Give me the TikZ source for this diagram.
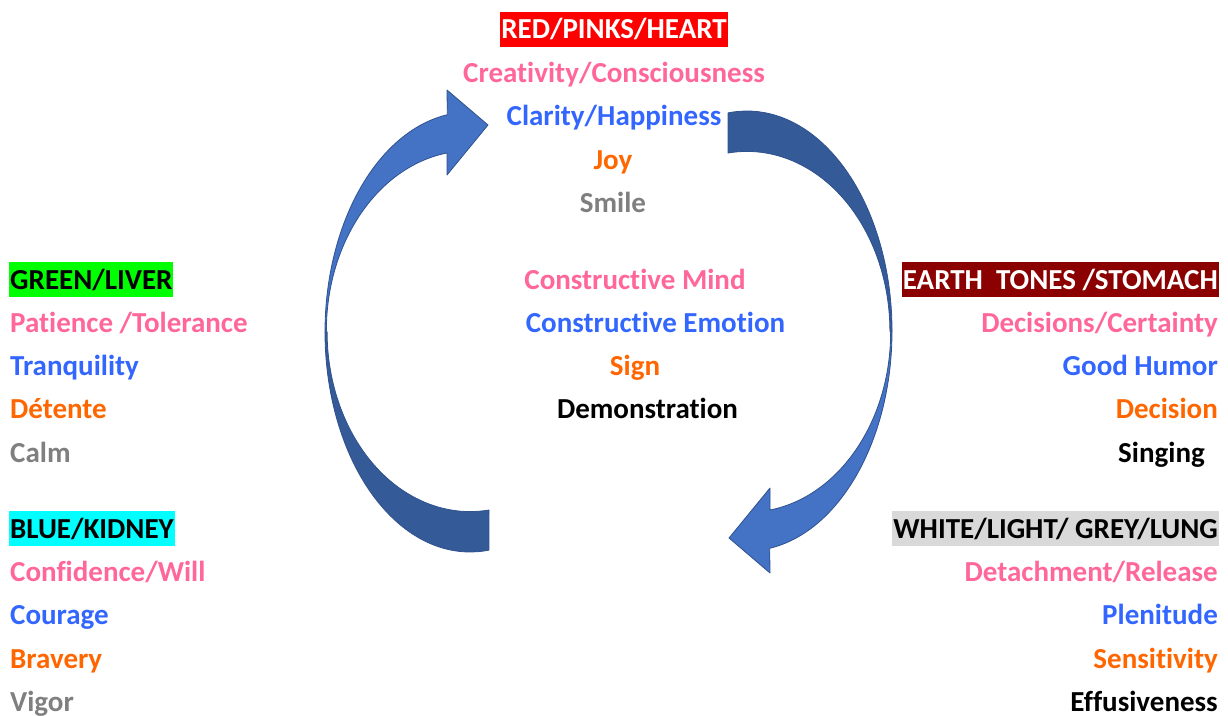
\documentclass[tikz,border=0pt]{standalone}
\usepackage{fontspec}
\setmainfont{Carlito}[Ligatures=CommonOff]
\definecolor{cpink}{HTML}{FF6699}
\definecolor{cblue}{HTML}{3366FF}
\definecolor{corange}{HTML}{FF6600}
\definecolor{cgrey}{HTML}{7F7F7F}
\definecolor{hred}{HTML}{FF0000}
\definecolor{hgreen}{HTML}{00FF00}
\definecolor{hcyan}{HTML}{00FFFF}
\definecolor{hbrown}{HTML}{8B0000}
\definecolor{hlgrey}{HTML}{D9D9D9}
\definecolor{arrlight}{HTML}{4472C4}
\definecolor{arrdark}{HTML}{345A98}
\definecolor{arrline}{HTML}{2F528F}
\begin{document}
\begin{tikzpicture}[x=1pt,y=-1pt,
  every node/.style={font=\fontsize{29}{34}\selectfont\bfseries, inner sep=0pt},
  hdr/.style={fill=#1, inner xsep=1pt, inner ysep=0pt, text height=27pt, text depth=8pt},
  lbl/.style={text=#1},
  arrpart/.style={fill=#1, draw=arrline, line width=0.8pt, line join=round}
]
\useasboundingbox (0,0) rectangle (1228,715);

% curved arrows
\newcommand{\curvedarrow}{%
  \path[arrpart=arrdark] (325,332) arc[start angle=180, end angle=82.5, x radius=145, y radius=220]
    -- (489,510) arc[start angle=82.4, end angle=180, x radius=143, y radius=180] -- cycle;
  \path[arrpart=arrlight] (325,332) arc[start angle=180, end angle=261, x radius=145, y radius=220]
    -- (447,90) -- (488,125) -- (447,175) -- (447,153)
    arc[start angle=261, end angle=180, x radius=143, y radius=180] -- cycle;
}
\curvedarrow
\begin{scope}[rotate around={180:(608.5,331.5)}]
\curvedarrow
\end{scope}

% top (heart)
\node[hdr=hred, text=white, anchor=base] (heart) at (614,38.5) {RED/PINKS/HEART};
\node[lbl=cpink, anchor=base] (h1) at (614,82) {Creativity/Consciousness};
\node[lbl=cblue, anchor=base] (h2) at (614,125.5) {Clarity/Happiness};
\node[lbl=corange, anchor=base] (h3) at (613,169) {Joy};
\node[lbl=cgrey, anchor=base] (h4) at (613,212.5) {Smile};

% centre
\node[lbl=cpink, anchor=base] (c1) at (635,289) {Constructive Mind};
\node[lbl=cblue, anchor=base] (c2) at (655.5,332) {Constructive Emotion};
\node[lbl=corange, anchor=base] (c3) at (635,375.5) {Sign};
\node[lbl=black, anchor=base] (c4) at (647.5,418.5) {Demonstration};

% left top (liver)
\node[hdr=hgreen, text=black, anchor=base west] (liver) at (9,289) {GREEN/LIVER};
\node[lbl=cpink, anchor=base west] (l1) at (10,332) {Patience /Tolerance};
\node[lbl=cblue, anchor=base west] (l2) at (10,375.5) {Tranquility};
\node[lbl=corange, anchor=base west] (l3) at (10,418.5) {Détente};
\node[lbl=cgrey, anchor=base west] (l4) at (10,462) {Calm};

% left bottom (kidney)
\node[hdr=hcyan, text=black, anchor=base west] (kidney) at (9,538) {BLUE/KIDNEY};
\node[lbl=cpink, anchor=base west] (k1) at (10,581) {Confidence/Will};
\node[lbl=cblue, anchor=base west] (k2) at (10,624.5) {Courage};
\node[lbl=corange, anchor=base west] (k3) at (10,668) {Bravery};
\node[lbl=cgrey, anchor=base west] (k4) at (10,711) {Vigor};

% right top (stomach)
\node[hdr=hbrown, text=white, anchor=base east] (stomach) at (1219,289) {EARTH\ \ TONES /STOMACH};
\node[lbl=cpink, anchor=base east] (s1) at (1218,332) {Decisions/Certainty};
\node[lbl=cblue, anchor=base east] (s2) at (1218,375.5) {Good Humor};
\node[lbl=corange, anchor=base east] (s3) at (1218,418.5) {Decision};
\node[lbl=black, anchor=base east] (s4) at (1205,462) {Singing};

% right bottom (lung)
\node[hdr=hlgrey, text=black, anchor=base east] (lung) at (1219,538) {WHITE/LIGHT/ GREY/LUNG};
\node[lbl=cpink, anchor=base east] (u1) at (1218,581) {Detachment/Release};
\node[lbl=cblue, anchor=base east] (u2) at (1218,624.5) {Plenitude};
\node[lbl=corange, anchor=base east] (u3) at (1218,668) {Sensitivity};
\node[lbl=black, anchor=base east] (u4) at (1218,711) {Effusiveness};
\end{tikzpicture}
\end{document}
